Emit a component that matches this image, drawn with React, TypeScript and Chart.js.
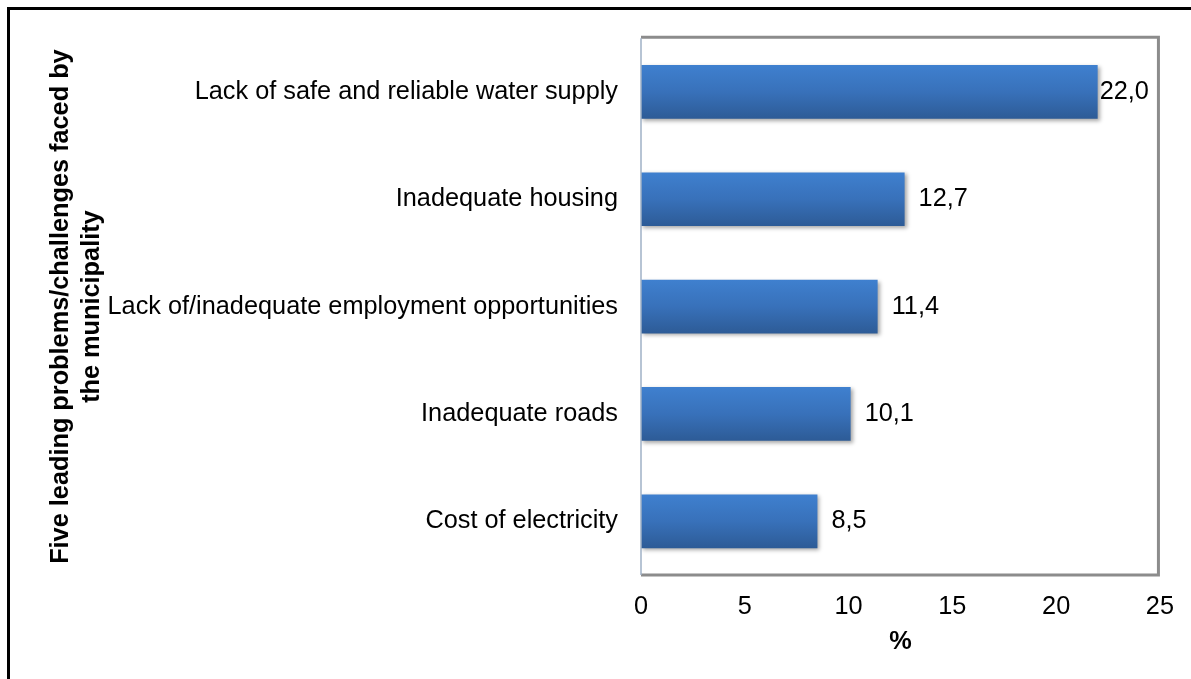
import React, { useEffect, useRef } from "react";
import { Chart, registerables } from "chart.js";

Chart.register(...registerables);

const categories = [
  "Lack of safe and reliable water supply",
  "Inadequate housing",
  "Lack of/inadequate employment opportunities",
  "Inadequate roads",
  "Cost of electricity",
];
const values = [22.0, 12.7, 11.4, 10.1, 8.5];
const xTicks = [0, 5, 10, 15, 20, 25];
const yTitle = ["Five leading problems/challenges faced by", "the municipality"];
const xTitle = "%";

const FONT = '"Liberation Sans", Arial, sans-serif';
const FS = 25.3;

const decorPlugin = {
  id: "decor",
  beforeDatasetsDraw(chart: any) {
    const ctx = chart.ctx;
    ctx.save();
    ctx.shadowColor = "rgba(0,0,0,0.35)";
    ctx.shadowBlur = 4;
    ctx.shadowOffsetX = 2;
    ctx.shadowOffsetY = 2;
  },
  afterDatasetsDraw(chart: any) {
    const ctx = chart.ctx;
    ctx.restore();
    const a = chart.chartArea;
    const meta = chart.getDatasetMeta(0);
    ctx.save();
    ctx.font = `${FS}px ${FONT}`;
    ctx.fillStyle = "#000";
    ctx.textAlign = "left";
    ctx.textBaseline = "middle";
    meta.data.forEach((bar: any, i: number) => {
      const txt = values[i].toFixed(1).replace(".", ",");
      const w = ctx.measureText(txt).width;
      let x = bar.x + 14;
      if (x + w > a.right - 8) x = bar.x + 2;
      ctx.fillText(txt, x, bar.y);
    });
    ctx.restore();
    ctx.save();
    ctx.strokeStyle = "#8c8c8c";
    ctx.lineWidth = 3;
    ctx.beginPath();
    ctx.moveTo(a.left, a.top - 1);
    ctx.lineTo(a.right - 1.5, a.top - 1);
    ctx.lineTo(a.right - 1.5, a.bottom);
    ctx.lineTo(a.left, a.bottom);
    ctx.stroke();
    ctx.strokeStyle = "#9fb0c6";
    ctx.lineWidth = 1.5;
    ctx.beginPath();
    ctx.moveTo(a.left, a.top);
    ctx.lineTo(a.left, a.bottom);
    ctx.stroke();
    ctx.restore();
  },
};

export default function App() {
  const ref = useRef<HTMLCanvasElement | null>(null);

  useEffect(() => {
    if (!ref.current) return;
    const chart = new Chart(ref.current, {
      type: "bar",
      data: {
        labels: categories,
        datasets: [
          {
            data: values,
            backgroundColor: (c: any) => {
              const ch = c.chart;
              const ys = ch.scales && ch.scales.y;
              if (!ys || c.dataIndex === undefined) return "#3870b8";
              const cy = ys.getPixelForValue(c.dataIndex);
              if (!isFinite(cy)) return "#3870b8";
              const half = 27;
              const g = ch.ctx.createLinearGradient(0, cy - half, 0, cy + half);
              g.addColorStop(0, "#3f80cf");
              g.addColorStop(0.5, "#3871ba");
              g.addColorStop(1, "#2d5b96");
              return g;
            },
            borderWidth: 0,
            barPercentage: 0.5,
            categoryPercentage: 1.0,
          },
        ],
      },
      options: {
        indexAxis: "y",
        animation: false,
        responsive: true,
        maintainAspectRatio: false,
        layout: { padding: { top: 35, right: 30, left: 0, bottom: 0 } },
        plugins: { legend: { display: false }, tooltip: { enabled: false } },
        scales: {
          x: {
            type: "linear",
            position: "bottom",
            min: 0,
            max: 25,
            afterBuildTicks: (s: any) => {
              s.ticks = xTicks.map((v) => ({ value: v }));
            },
            ticks: {
              padding: 17,
              color: "#000",
              font: { family: FONT, size: FS },
            },
            grid: { display: false, drawTicks: false },
            border: { display: false },
            title: {
              display: true,
              text: xTitle,
              color: "#000",
              font: { family: FONT, size: FS, weight: "bold" },
              padding: { top: 0, bottom: 22 },
            },
            afterFit: (s: any) => {
              s.height = 104;
            },
          },
          y: {
            type: "category",
            ticks: {
              padding: 23,
              color: "#000",
              font: { family: FONT, size: FS },
            },
            grid: { display: false, drawTicks: false },
            border: { display: false },
            title: {
              display: true,
              text: yTitle,
              color: "#000",
              font: { family: FONT, size: FS, weight: "bold" },
              padding: { top: 46, bottom: 0 },
            },
            afterFit: (s: any) => {
              s.width = 641;
            },
          },
        },
      },
      plugins: [decorPlugin],
    } as any);
    return () => chart.destroy();
  }, []);

  return (
    <div
      style={{
        position: "fixed",
        left: 0,
        top: 0,
        width: 1191,
        height: 679,
        overflow: "hidden",
        background: "#fff",
      }}
    >
      <div
        style={{
          position: "absolute",
          left: 7,
          top: 7,
          width: 1300,
          height: 800,
          borderTop: "3px solid #000",
          borderLeft: "3px solid #000",
        }}
      />
      <div style={{ position: "absolute", left: 0, top: 0, width: 1191, height: 679 }}>
        <canvas ref={ref} />
      </div>
    </div>
  );
}
